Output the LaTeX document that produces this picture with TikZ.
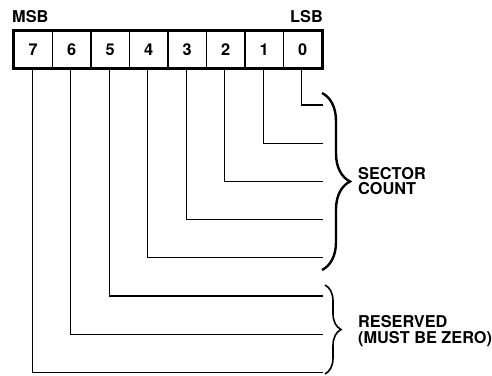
\documentclass[tikz,border=0pt]{standalone}
\usepackage{fontspec}
\setmainfont{TeX Gyre Heros}
\usetikzlibrary{positioning, decorations.pathreplacing}

\begin{document}
\begin{tikzpicture}[x=1pt, y=-1pt,
  font=\fontsize{16.3}{15.5}\selectfont\bfseries,
  cell/.style={draw, line width=1.2pt, minimum width=38.5pt,
               minimum height=37pt, inner sep=0pt},
  wire/.style={line width=1.3pt},
  lbl/.style={anchor=west, align=left, inner sep=0pt}]
  \useasboundingbox (0,0) rectangle (492,375);
  % register cells, bit 7 on the left
  \foreach \b [count=\k from 0] in {7,6,5,4,3,2,1,0}{
    \node[cell] (b\b) at (33.25+\k*38.5,49.5) {\b};}
  \draw[line width=3.5pt] (b7.north west) rectangle (b0.south east);
  \node[anchor=base west, inner sep=0pt] (msb) at (12,22) {MSB};
  \node[anchor=base east, inner sep=0pt] (lsb) at (323,22) {LSB};
  % one wire per bit, turning right
  \foreach \b in {0,...,7}{
    \coordinate (e\b) at (323,105+\b*38.2);
    \draw[wire] ([xshift=-1pt]b\b.south) |- (e\b);}
  % braces and their labels
  \draw[line width=2.4pt, decorate, decoration={brace, amplitude=28pt}]
    (322,93) -- (322,270) coordinate[midway] (sbr);
  \draw[line width=1.6pt, decorate, decoration={brace, amplitude=16pt}]
    (325,285) -- (325,374) coordinate[midway] (rbr);
  \node[lbl] (sector) at (358,181) {SECTOR\\COUNT};
  \node[lbl] (resv) at (358,331) {RESERVED\\(MUST BE ZERO)};
\end{tikzpicture}
\end{document}
